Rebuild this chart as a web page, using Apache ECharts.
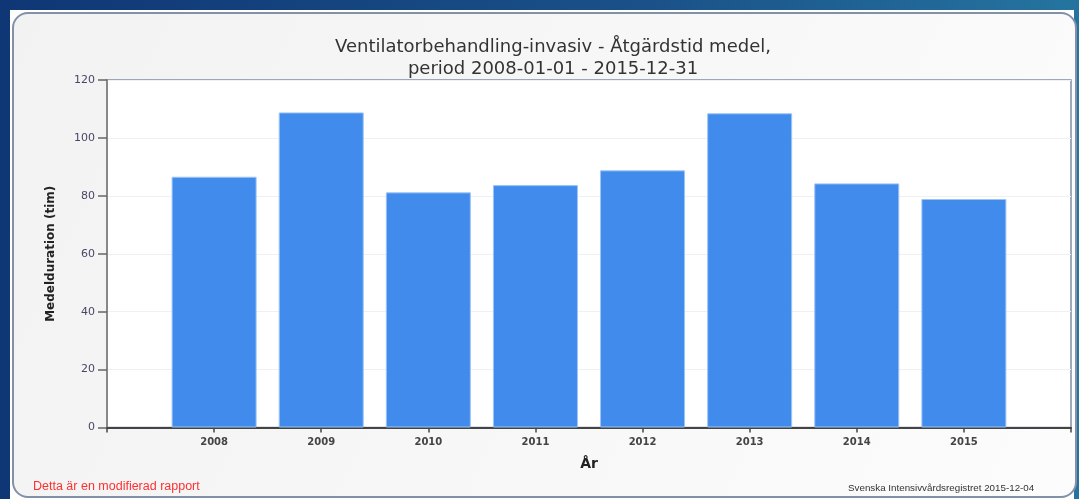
<!DOCTYPE html>
<html>
<head>
<meta charset="utf-8">
<script src="https://cdn.jsdelivr.net/npm/echarts@6/dist/echarts.min.js"></script>
<style>
html,body{margin:0;padding:0;}
#c{width:1079px;height:499px;}
</style>
</head>
<body>
<div id="c"></div>
<script>
const years = [2008, 2009, 2010, 2011, 2012, 2013, 2014, 2015];
const values = [86.6, 108.8, 81.2, 83.7, 88.8, 108.5, 84.3, 78.9];
const titleText = 'Ventilatorbehandling-invasiv - Åtgärdstid medel,\nperiod 2008-01-01 - 2015-12-31';
const yName = 'Medelduration (tim)';
const xName = 'År';
const footLeft = 'Detta är en modifierad rapport';
const footRight = 'Svenska Intensivvårdsregistret 2015-12-04';

const chart = echarts.init(document.getElementById('c'), null, {renderer: 'canvas'});
chart.setOption({
  animation: false,
  backgroundColor: new echarts.graphic.LinearGradient(0, 0, 1, 0, [
    {offset: 0, color: '#0f3675'},
    {offset: 0.6, color: '#1a5188'},
    {offset: 1, color: '#2574a0'}
  ]),
  graphic: [
    {type: 'rect', z: -10, shape: {x: 10, y: 10, width: 1064, height: 489}, style: {fill: '#ffffff'}},
    {type: 'rect', z: -9, shape: {x: 13, y: 13, width: 1063, height: 484, r: 15},
      style: {fill: new echarts.graphic.LinearGradient(0, 0, 1, 1, [
        {offset: 0, color: '#f2f2f2'}, {offset: 1, color: '#fcfcfc'}]),
        stroke: '#8391a8', lineWidth: 2}},
    {type: 'text', left: 33, top: 480, style: {text: footLeft, fill: '#ff3030', font: '12.5px "Liberation Sans"'}},
    {type: 'text', left: 848, top: 483, style: {text: footRight, fill: '#333', font: '9.8px "Liberation Sans"'}}
  ],
  title: {
    text: titleText,
    left: 548,
    top: 31,
    textAlign: 'center',
    textStyle: {fontFamily: 'DejaVu Sans', fontSize: 18, fontWeight: 'normal', color: '#333', lineHeight: 22}
  },
  grid: {
    left: 107, right: 8, top: 80, bottom: 71.5,
    show: true, backgroundColor: '#ffffff', borderColor: '#7f8ea6', borderWidth: 1.5
  },
  xAxis: {
    type: 'value', min: 2007, max: 2016, interval: 1,
    name: xName, nameLocation: 'middle', nameGap: 30,
    nameTextStyle: {fontFamily: 'DejaVu Sans', fontSize: 14, fontWeight: 'bold', color: '#222'},
    axisLine: {show: true, lineStyle: {color: '#444', width: 2}},
    axisTick: {show: true, length: 5, lineStyle: {color: '#444', width: 1.5}},
    axisLabel: {
      formatter: v => (v >= years[0] && v <= years[years.length - 1]) ? String(v) : '',
      fontFamily: 'DejaVu Sans', fontSize: 10, fontWeight: 'bold', color: '#444', margin: 10
    },
    splitLine: {show: false}
  },
  yAxis: {
    type: 'value', min: 0, max: 120, interval: 20,
    name: yName, nameLocation: 'middle', nameGap: 50,
    nameTextStyle: {fontFamily: 'DejaVu Sans', fontSize: 12, fontWeight: 'bold', color: '#222'},
    axisLine: {show: true, lineStyle: {color: '#888', width: 2}},
    axisTick: {show: true, inside: false, length: 9, lineStyle: {color: '#666', width: 1.5}},
    axisLabel: {fontFamily: 'DejaVu Sans', fontSize: 11, color: '#4b4566', margin: 12},
    splitLine: {show: true, lineStyle: {color: '#f0f0f0', width: 1}}
  },
  series: [{
    type: 'bar',
    barWidth: 85,
    data: years.map((y, i) => [y, values[i]]),
    itemStyle: {color: '#418bec', borderColor: '#9cc4f6', borderWidth: 1}
  }]
});
</script>
</body>
</html>
